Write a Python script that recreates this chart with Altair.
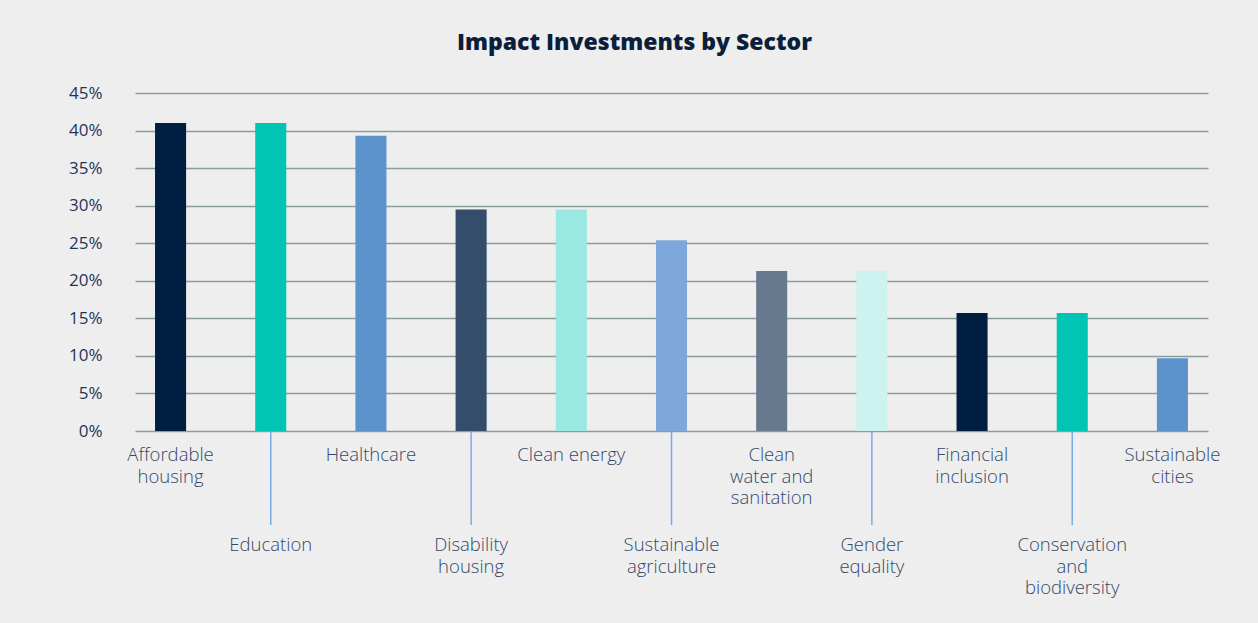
import altair as alt
import pandas as pd

sectors = [
    "Affordable housing", "Education", "Healthcare", "Disability housing",
    "Clean energy", "Sustainable agriculture", "Clean water and sanitation",
    "Gender equality", "Financial inclusion", "Conservation and biodiversity",
    "Sustainable cities",
]
labels = [
    "Affordable\nhousing", "Education", "Healthcare", "Disability\nhousing",
    "Clean energy", "Sustainable\nagriculture", "Clean\nwater and\nsanitation",
    "Gender\nequality", "Financial\ninclusion", "Conservation\nand\nbiodiversity",
    "Sustainable\ncities",
]
values = [41.0, 41.0, 39.3, 29.5, 29.5, 25.4, 21.3, 21.3, 15.7, 15.7, 9.7]
colors = ["#001f40", "#00c5b5", "#5d93cc", "#334d6b", "#99e8e2", "#7fa8da",
          "#66798f", "#ccf3ef", "#001f40", "#00c5b5", "#5d93cc"]
rows = [0, 1, 0, 1, 0, 1, 0, 1, 0, 1, 0]

df = pd.DataFrame({"sector": sectors, "label": labels, "value": values,
                   "color": colors, "row": rows})

W, H = 1073, 338
LABEL_COLOR = "#34486a"

x = alt.X("sector:N", sort=sectors,
          scale=alt.Scale(paddingInner=0.69, paddingOuter=0.2),
          axis=None)

bars = alt.Chart(df).mark_bar().encode(
    x=x,
    y=alt.Y("value:Q", scale=alt.Scale(domain=[0, 45], nice=False),
            axis=alt.Axis(values=[0, 5, 10, 15, 20, 25, 30, 35, 40, 45],
                          labelExpr="datum.value + '%'",
                          domain=False, ticks=False, grid=True,
                          gridColor="#8a9c9c", gridWidth=1.5,
                          labelPadding=33, labelFontSize=17,
                          labelColor="#1f3556", labelFont="Open Sans",
                          title=None)),
    color=alt.Color("color:N", scale=None),
)

connectors = alt.Chart(df).transform_filter("datum.row == 1").mark_rule(
    color="#7aaae8", strokeWidth=1.5
).encode(x=x, y=alt.value(H), y2=alt.value(H + 94))

text_style = dict(baseline="top", align="center", lineBreak="\n", fontSize=18.5,
                  font="Open Sans", fontWeight=300, color=LABEL_COLOR,
                  lineHeight=21.5)

top_labels = alt.Chart(df).transform_filter("datum.row == 0").mark_text(
    **text_style
).encode(x=x, y=alt.value(H + 15), text="label:N")

bottom_labels = alt.Chart(df).transform_filter("datum.row == 1").mark_text(
    **text_style
).encode(x=x, y=alt.value(H + 105), text="label:N")

chart = alt.layer(bars, connectors, top_labels, bottom_labels).properties(
    width=W, height=H,
    title=alt.TitleParams("Impact Investments by Sector", fontSize=23,
                          font="Open Sans", fontWeight=800, color="#0b1f3c",
                          anchor="middle", dx=-37, offset=29),
    background="#eeeeee",
    padding={"left": 135, "top": 93, "right": 50, "bottom": 192},
    autosize=alt.AutoSizeParams(type="none"),
).configure_view(stroke=None)

chart.save("out.html", embed_options={"renderer": "svg", "actions": False})
